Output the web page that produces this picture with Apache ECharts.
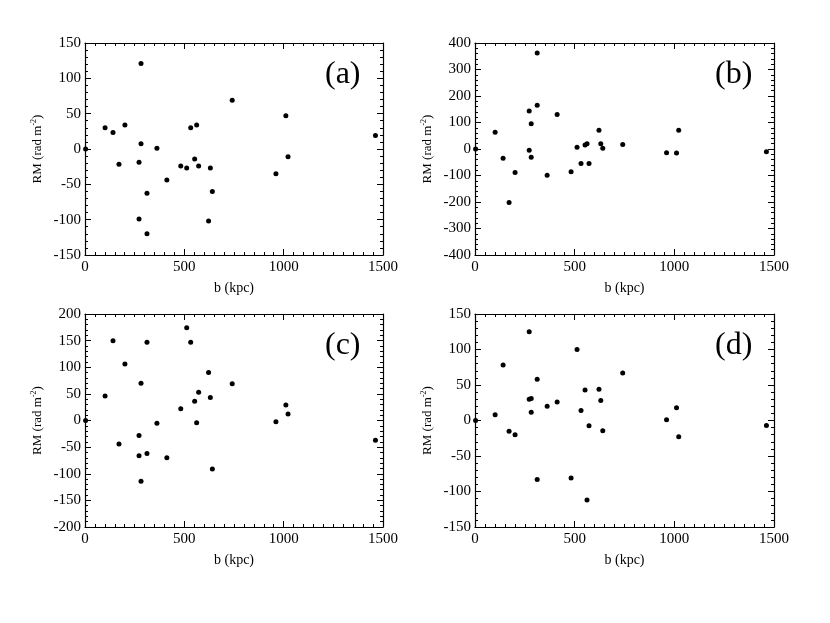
<!DOCTYPE html>
<html style="height: 100%">
<head>
<meta charset="utf-8">
</head>
<body style="height: 100%; margin: 0; background: #fff">
<div id="container" style="width: 830px; height: 623px"></div>
<script type="text/javascript" src="https://cdn.jsdelivr.net/npm/echarts@6/dist/echarts.min.js"></script>
<script type="text/javascript">
// projected distance of each source (kpc), shared by all four panels
var bKpc = [3, 101, 141, 171, 201, 272, 282, 272, 282, 312, 312, 362, 412, 482,
            512, 532, 552, 562, 572, 622, 631, 641, 741, 961, 1011, 1022, 1462];

// RM values (rad m^-2), one array per panel
var rmA = [0, 30, 23.5, -21.6, 34, -18.8, 121, -99, 7.5, -62.5, -120, 1, -44, -24,
           -27, 30, -14, 34, -24, -102, -27, -60, 69, -35, 47, -11, 19];
var rmB = [0, 63, -35, -202, -89, 143, 95, -5, -31, 362, 165, -99, 130, -86,
           7, -55, 15, 20, -55, 71, 20, 3, 17, -14, -15, 71, -10];
var rmC = [0, 46, 150, -44, 106, -28, 70, -66, -114, 147, -62, -5, -70, 22,
           174, 147, 36, -4, 53, 90, 43, -91, 69, -2.5, 29, 12, -37];
var rmD = [0, 8, 78, -15, -20, 125, 31, 30, 11.5, 58, -83, 20, 26, -81,
           100, 14, 43, -112, -7.5, 44, 28, -14.5, 67, 1, 18, -23, -7];

var panelNames = ['(a)', '(b)', '(c)', '(d)'];
var panelData = [rmA, rmB, rmC, rmD];
var yMin = [-150, -400, -200, -150];
var yMax = [150, 400, 200, 150];
var yStep = [50, 100, 50, 50];

var grids = [
    {left: 85, top: 43, width: 298, height: 212},
    {left: 475, top: 43, width: 299, height: 212},
    {left: 85, top: 314, width: 298, height: 213},
    {left: 475, top: 314, width: 299, height: 213}
];

var font = 'Liberation Serif';
var black = '#000';
var plain = function (v) { return String(v); };

var myChart = echarts.init(document.getElementById('container'));

var xAxes = [], yAxes = [], series = [], titles = [];

for (var i = 0; i < 4; i++) {
    var tick = {show: true, inside: true, length: 6, lineStyle: {color: black, width: 1}};
    var minor = {show: true, length: 3, lineStyle: {color: black, width: 1}};
    var line = {show: true, onZero: false, lineStyle: {color: black, width: 1.2}};

    xAxes.push({
        gridIndex: i, type: 'value', min: 0, max: 1500, interval: 500,
        position: 'bottom',
        name: 'b (kpc)', nameLocation: 'middle', nameGap: 26,
        nameTextStyle: {fontFamily: font, fontSize: 14, color: black},
        axisLine: line, axisTick: tick,
        minorTick: Object.assign({splitNumber: 10}, minor),
        splitLine: {show: false},
        axisLabel: {fontFamily: font, fontSize: 15, color: black, margin: 5, formatter: plain}
    });
    xAxes.push({
        gridIndex: i, type: 'value', min: 0, max: 1500, interval: 500,
        position: 'top',
        axisLine: line, axisTick: tick,
        minorTick: Object.assign({splitNumber: 10}, minor),
        splitLine: {show: false}, axisLabel: {show: false}
    });
    yAxes.push({
        gridIndex: i, type: 'value', min: yMin[i], max: yMax[i], interval: yStep[i],
        position: 'left',
        name: 'RM (rad m{sup|-2})', nameLocation: 'middle', nameGap: 40,
        nameTextStyle: {
            fontFamily: font, fontSize: 13, color: black,
            rich: {sup: {fontFamily: font, fontSize: 8, color: black, padding: [0, 0, 7, 0]}}
        },
        axisLine: line, axisTick: tick,
        minorTick: Object.assign({splitNumber: 5}, minor),
        splitLine: {show: false},
        axisLabel: {fontFamily: font, fontSize: 15, color: black, margin: 4, formatter: plain}
    });
    yAxes.push({
        gridIndex: i, type: 'value', min: yMin[i], max: yMax[i], interval: yStep[i],
        position: 'right',
        axisLine: line, axisTick: tick,
        minorTick: Object.assign({splitNumber: 5}, minor),
        splitLine: {show: false}, axisLabel: {show: false}
    });

    series.push({
        type: 'scatter',
        xAxisIndex: i * 2,
        yAxisIndex: i * 2,
        symbolSize: 5,
        itemStyle: {color: black, opacity: 1},
        data: bKpc.map(function (b, k) { return [b, this[k]]; }, panelData[i]),
        clip: true
    });

    titles.push({
        text: panelNames[i],
        left: grids[i].left + 235,
        top: grids[i].top + 11,
        textStyle: {fontFamily: font, fontSize: 32, fontWeight: 'normal', color: black}
    });
}

var option = {
    animation: false,
    backgroundColor: '#fff',
    title: titles,
    grid: grids,
    xAxis: xAxes,
    yAxis: yAxes,
    series: series
};

myChart.setOption(option);
</script>
</body>
</html>
